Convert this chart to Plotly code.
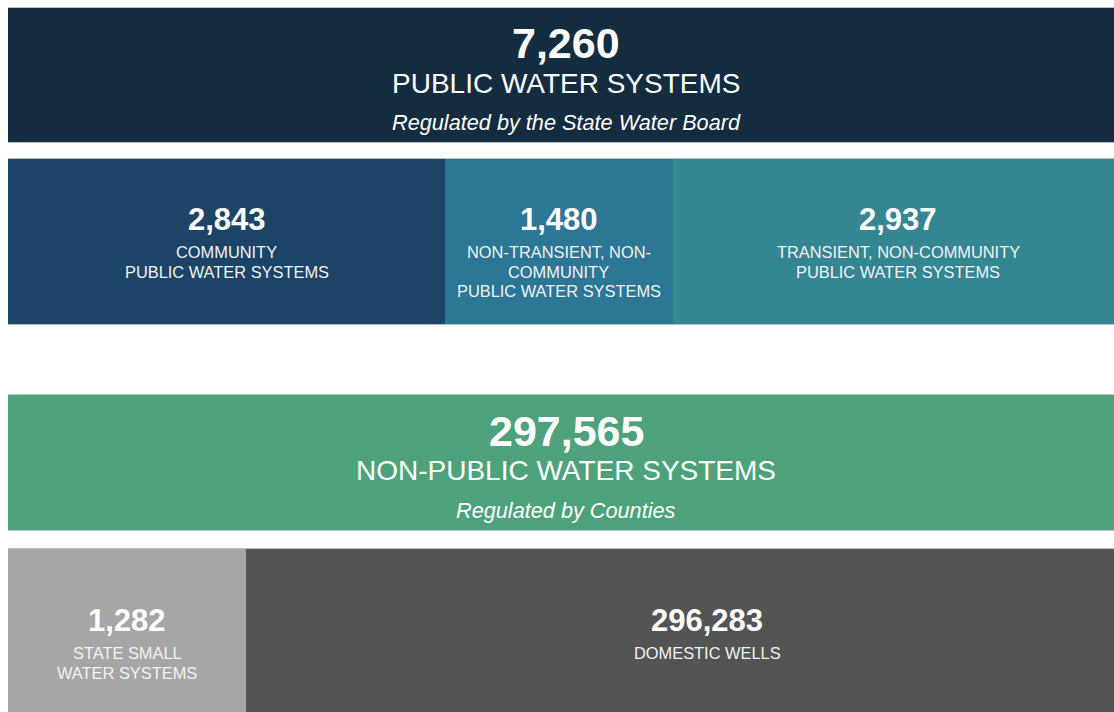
import plotly.graph_objects as go

# ---------------- data ----------------
public_total = 7260
public_title = "PUBLIC WATER SYSTEMS"
public_sub = "Regulated by the State Water Board"
public_values = [2843, 1480, 2937]
public_labels = [
    ["COMMUNITY", "PUBLIC WATER SYSTEMS"],
    ["NON-TRANSIENT, NON-", "COMMUNITY", "PUBLIC WATER SYSTEMS"],
    ["TRANSIENT, NON-COMMUNITY", "PUBLIC WATER SYSTEMS"],
]

nonpublic_total = 297565
nonpublic_title = "NON-PUBLIC WATER SYSTEMS"
nonpublic_sub = "Regulated by Counties"
nonpublic_values = [1282, 296283]
nonpublic_labels = [
    ["STATE SMALL", "WATER SYSTEMS"],
    ["DOMESTIC WELLS"],
]

# ---------------- layout / style (pixel-like units) ----------------
W, H = 1114, 712
X0 = 8
FULL_W = 1116
BOTTOM_WIDTHS = [238, 922]       # display widths (not proportional)

# bands: (top, bottom)
BAND_TOP = (7.5, 142.3)
BAND_PUB = (158.5, 323.7)
BAND_GREEN = (395, 530)
BAND_NP = (549, 730)

C_TOP = "#142C40"
C_PUB = ["#1C4466", "#2C7696", "#348692"]
C_GREEN = "#4DA27B"
C_NP = ["#A6A6A6", "#545454"]
EDGE = "#BDBDBD"

FONT = "Liberation Sans, Arial, sans-serif"

SZ_BIG = 43
SZ_TITLE = 28
SZ_SUB = 21.7
SZ_NUM = 31
SZ_LAB = 16.4

fig = go.Figure()


def add_edge(x0, w, band):
    top, bot = band
    fig.add_trace(go.Bar(
        orientation="h",
        base=[x0], x=[w], y=[(top + bot) / 2], width=[bot - top + 1.6],
        marker=dict(color=EDGE, line=dict(width=0)),
        hoverinfo="skip", showlegend=False,
    ))


def add_box(x0, w, band, color, name):
    top, bot = band
    fig.add_trace(go.Bar(
        orientation="h",
        base=[x0], x=[w], y=[(top + bot) / 2], width=[bot - top],
        marker=dict(color=color, line=dict(width=0)),
        hoverinfo="skip", showlegend=False, name=name,
    ))


def add_text(x, y, text, size, bold=False, italic=False, color="white"):
    if bold:
        text = f"<b>{text}</b>"
    if italic:
        text = f"<i>{text}</i>"
    fig.add_annotation(x=x, y=y, xref="x", yref="y", text=text, showarrow=False,
                       xanchor="center", yanchor="middle",
                       font=dict(family=FONT, size=size, color=color))


cx = X0 + FULL_W / 2

# Top band: public total
add_edge(X0, FULL_W, BAND_TOP)
add_box(X0, FULL_W, BAND_TOP, C_TOP, public_title)
add_text(cx, 42.5, f"{public_total:,}", SZ_BIG, bold=True)
add_text(cx, 83.5, public_title, SZ_TITLE)
add_text(cx, 122.5, public_sub, SZ_SUB, italic=True)

# Public breakdown (proportional widths)
add_edge(X0, FULL_W, BAND_PUB)
total_pub = sum(public_values)
x = X0
for v, lab, col in zip(public_values, public_labels, C_PUB):
    w = v / total_pub * FULL_W
    add_box(x, w, BAND_PUB, col, lab[0])
    c = x + w / 2
    add_text(c, 219, f"{v:,}", SZ_NUM, bold=True)
    for i, line in enumerate(lab):
        add_text(c, 252 + i * 19.5, line, SZ_LAB, color="#F2F2F2")
    x += w

# Green band: non-public total
add_edge(X0, FULL_W, BAND_GREEN)
add_box(X0, FULL_W, BAND_GREEN, C_GREEN, nonpublic_title)
add_text(cx, 431, f"{nonpublic_total:,}", SZ_BIG, bold=True)
add_text(cx, 470.5, nonpublic_title, SZ_TITLE)
add_text(cx, 510.5, nonpublic_sub, SZ_SUB, italic=True)

# Non-public breakdown
add_edge(X0, sum(BOTTOM_WIDTHS), BAND_NP)
x = X0
for v, lab, col, w in zip(nonpublic_values, nonpublic_labels, C_NP, BOTTOM_WIDTHS):
    add_box(x, w, BAND_NP, col, lab[0])
    c = x + w / 2
    add_text(c, 620, f"{v:,}", SZ_NUM, bold=True)
    for i, line in enumerate(lab):
        add_text(c, 653 + i * 19.5, line, SZ_LAB, color="#F2F2F2")
    x += w

fig.update_layout(
    width=W, height=H,
    margin=dict(l=0, r=0, t=0, b=0),
    paper_bgcolor="white", plot_bgcolor="white",
    barmode="overlay", bargap=0,
    xaxis=dict(range=[0, W], visible=False, fixedrange=True),
    yaxis=dict(range=[H, 0], visible=False, fixedrange=True),
    font=dict(family=FONT),
)

fig.write_html(
    "out.html",
    config={"displayModeBar": False},
    post_script="document.body.style.margin='0';document.body.style.overflow='hidden';",
)
